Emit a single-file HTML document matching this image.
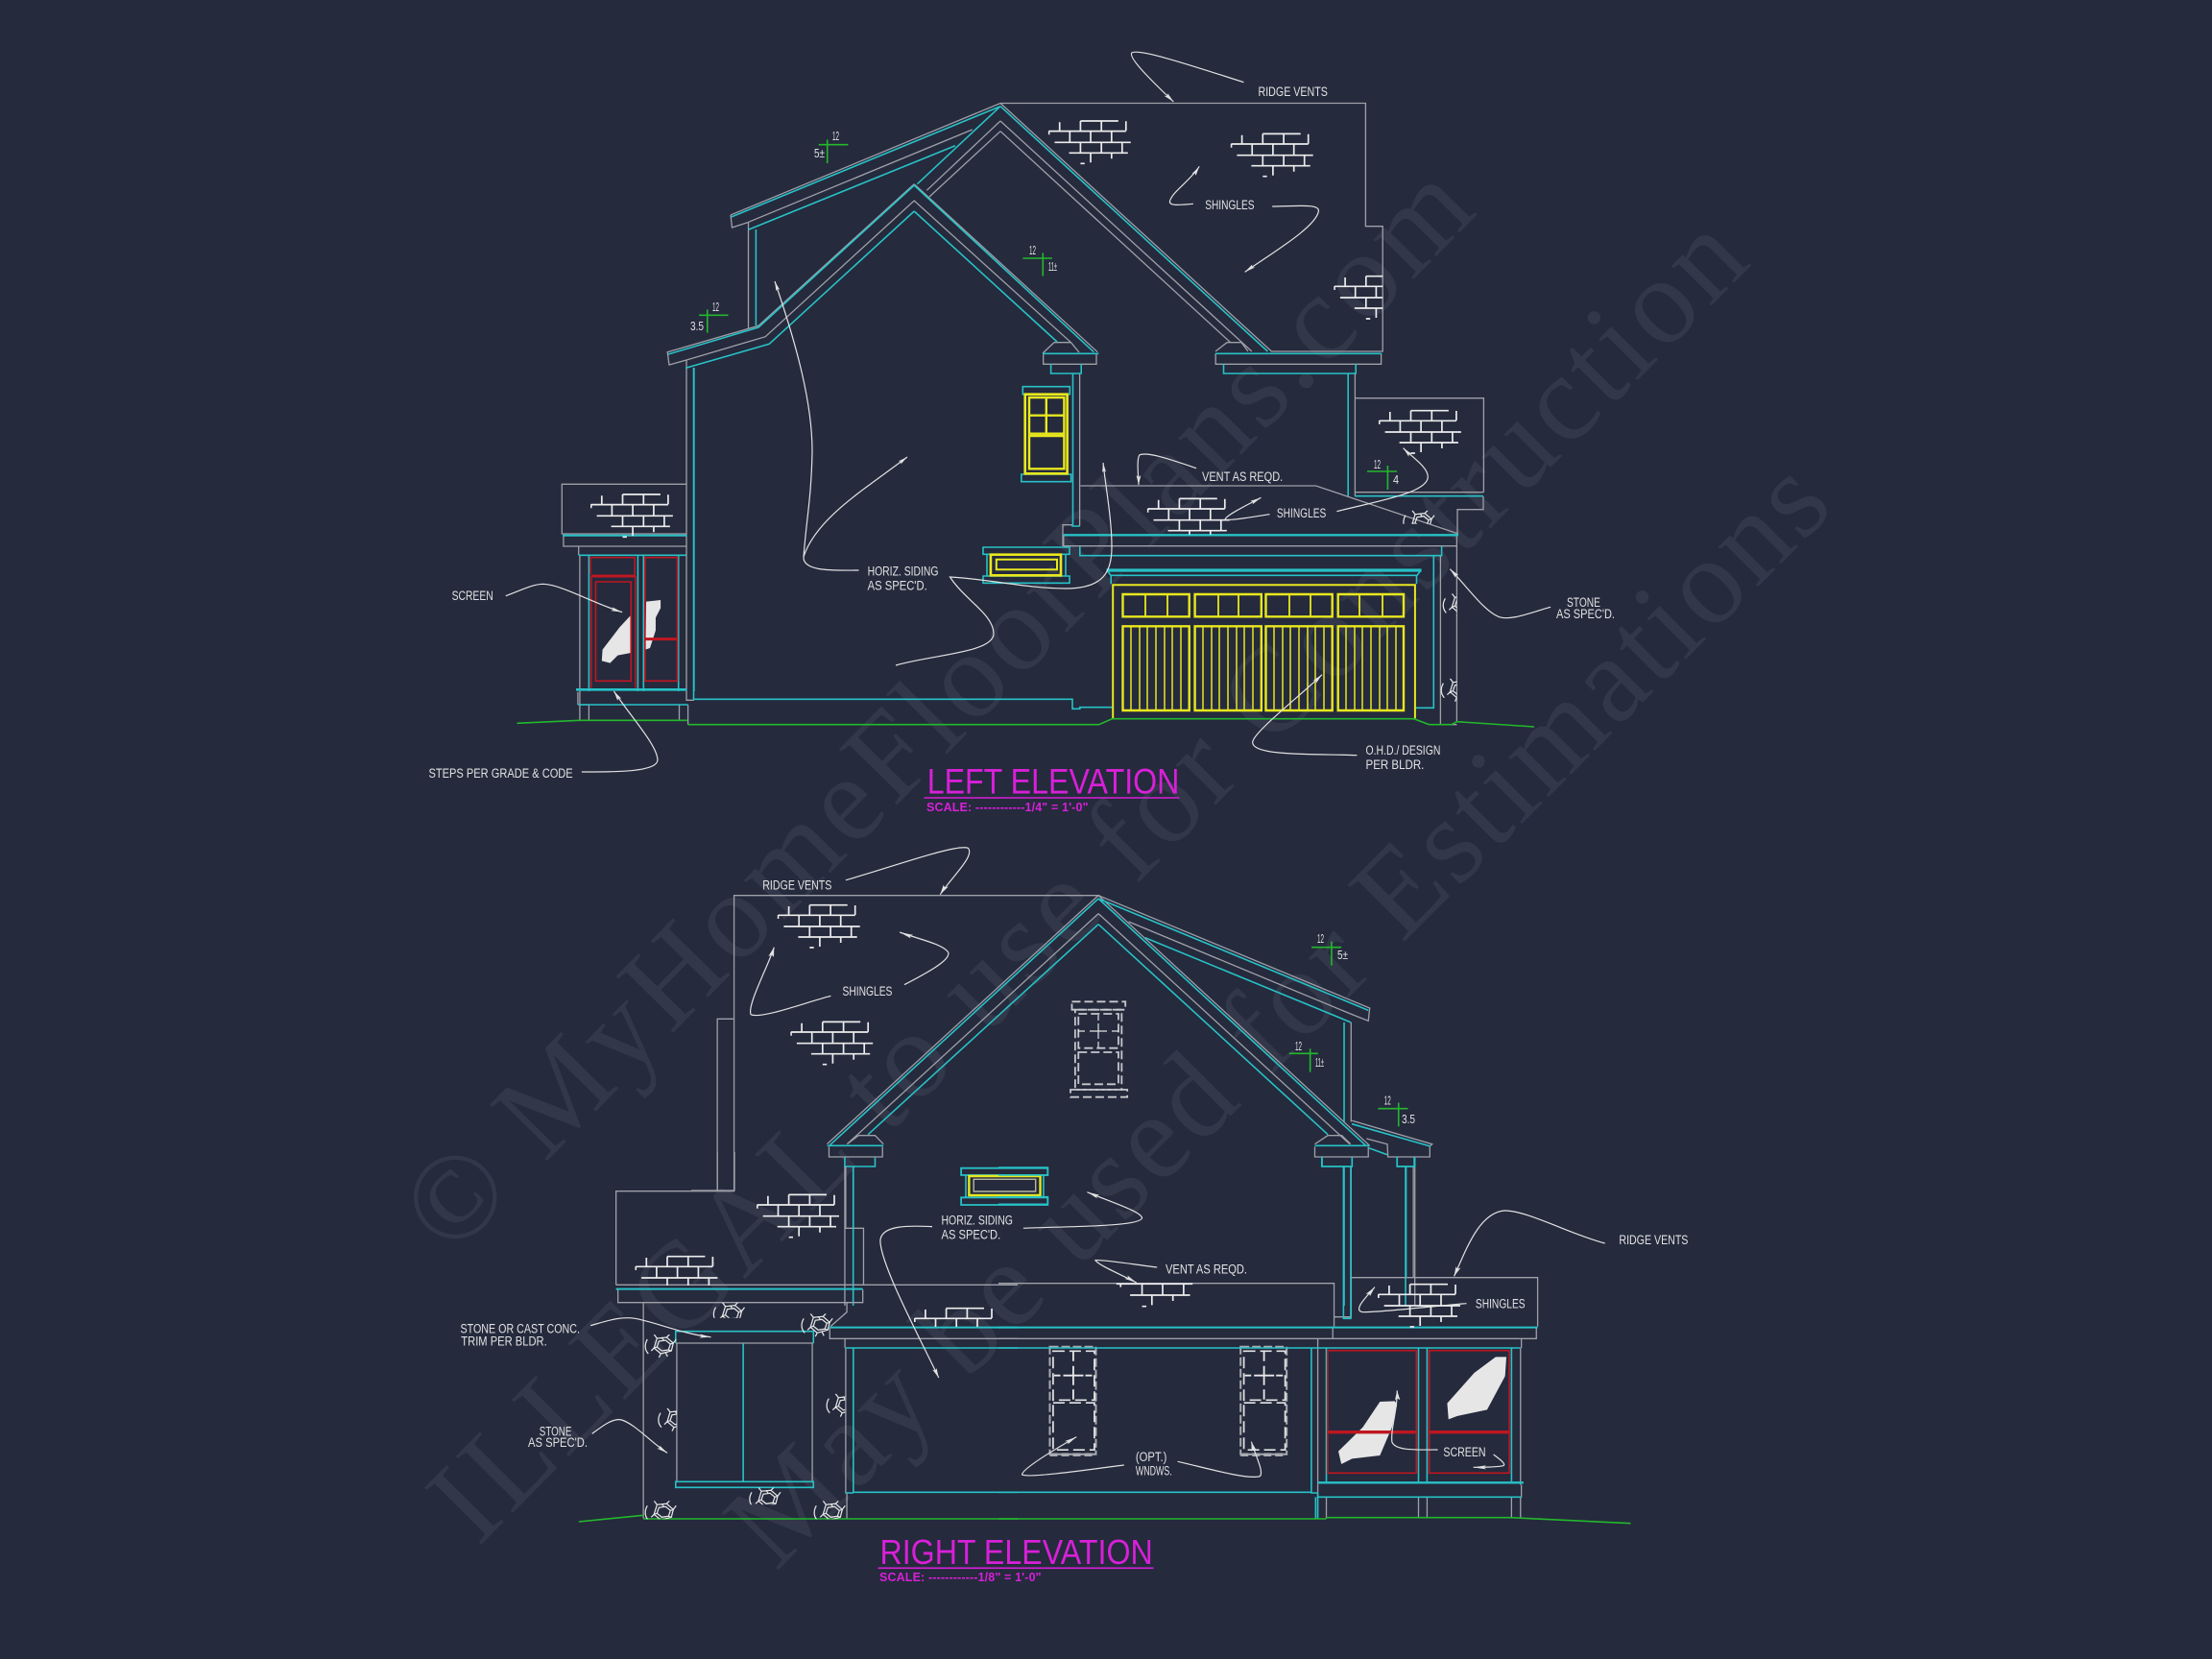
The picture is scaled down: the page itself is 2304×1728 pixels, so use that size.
<!DOCTYPE html>
<html><head><meta charset="utf-8"><title>Elevations</title>
<style>
html,body{margin:0;padding:0;background:#252a3d;width:2304px;height:1728px;overflow:hidden}
svg{display:block}
svg *{vector-effect:non-scaling-stroke}
.g{fill:none;stroke:#9fa1a8;stroke-width:1.3}
.c{fill:none;stroke:#27c2c6;stroke-width:1.6}
.y{fill:none;stroke:#e8e81e;stroke-width:2.4}
.r{fill:none;stroke:#bf1620;stroke-width:1.6}
.gr{fill:none;stroke:#23b82c;stroke-width:1.6}
.w{fill:none;stroke:#e2e2e2;stroke-width:1.2}
.d{fill:none;stroke:#c6c8cc;stroke-width:1.8;stroke-dasharray:9 4}
.t{font-family:"Liberation Sans",sans-serif;font-size:13.5px;fill:#e2e2e2}
.s{font-family:"Liberation Sans",sans-serif;font-size:13px;fill:#e2e2e2}
.m{font-family:"Liberation Sans",sans-serif;fill:#d820d8}
.wm{font-family:"Liberation Serif",serif;font-size:128px;fill:#323749}
</style></head><body>
<svg xmlns="http://www.w3.org/2000/svg" width="2304" height="1728" viewBox="0 0 2304 1728">
<defs>
<marker id="a" markerUnits="userSpaceOnUse" viewBox="0 0 10 4" refX="10" refY="2" markerWidth="32" markerHeight="12" orient="auto"><path d="M0 0L10 2L0 4L2 2Z" fill="#e2e2e2"/></marker>
<marker id="at" markerUnits="userSpaceOnUse" viewBox="0 0 10 4" refX="10" refY="2" markerWidth="12" markerHeight="4" orient="auto"><path d="M0 0L10 2L0 4L2 2Z" fill="#e2e2e2"/></marker>
<symbol id="b" overflow="hidden">
<path fill="none" stroke="#ececec" stroke-width="1.7" d="M33.6 2.7H73M.8 13.3H81M6.7 25H86M21.7 36H83M11.9 4V13.3M33.6 2.7V13.3M55.4 2.7V13.3M22.5 13.3V25M44.2 13.3V25M66 13.3V25M33.6 25V36M55.4 25V36M77 25V36M44.2 36V46M66 36V42M33.6 47H38M.8 13V17M81 3V13"/>
</symbol>
<symbol id="st" overflow="hidden">
<path fill="none" stroke="#e6e6e6" stroke-width="1.25" d="M3 5C0 10 0 16 4 20M13 4L23 3L30 9L28 17L17 20L10 14ZM15 7L22 6L27 10L25 16L18 17L13 13ZM17 20L15 24M22 19L24 23M10 14L7 17M30 9L33 5M13 4L10 0M23 3L26 0M18 3L20 6M27 10L30 9M13 13L10 14M25 16L28 17"/>
</symbol>
<g id="win">
<rect x="0" y="0" width="48" height="112" fill="none" stroke="#a9abb0" stroke-width="2" stroke-dasharray="9 3"/>
<rect x="3.4" y="4.6" width="43" height="51" fill="none" stroke="#e4e4e4" stroke-width="1.7" stroke-dasharray="12 5"/>
<rect x="3.4" y="58.5" width="43" height="49" fill="none" stroke="#e4e4e4" stroke-width="1.7" stroke-dasharray="12 5"/>
<path d="M0 112.5H48" fill="none" stroke="#a9abb0" stroke-width="3.5" stroke-dasharray="8 4"/>
<path d="M24.4 5V15M24.4 20V40M24.4 44.5V55M14 30H35M4.5 30H11M37 30H44" fill="none" stroke="#e8e8e8" stroke-width="1.8"/>
</g>
</defs>
<rect width="2304" height="1728" fill="#252a3d"/>

<!-- watermark -->
<text class="wm" transform="translate(470,1311) rotate(-45.5)" textLength="1527" lengthAdjust="spacing">© MyHomeFloorPlans.com</text>
<text class="wm" transform="translate(498,1612) rotate(-45.2)" textLength="1884" lengthAdjust="spacing">ILLEGAL to use for Construction</text>
<text class="wm" transform="translate(808,1638) rotate(-45.1)" textLength="1564" lengthAdjust="spacing">May be used for Estimations</text>

<!-- ============ LEFT ELEVATION ============ -->
<g class="g">
<path d="M761 224L1042 107.5H1422.4V235.7H1440.2V366H1324.4L1042 107.5"/>
<path d="M1012.7 135L778.7 231.7M761 224L762.5 237L778.7 231.7"/>
<path d="M1042 126L965.3 198.3M1042 136.7L968 205M1042 126L1303.8 366M1042 136.7L1281.7 356.7"/>
<path d="M952.2 191.7L790 339.3L695.2 366.7L697 380L715 375L797.2 350.7L952.2 209L1115.5 356.7M952.2 191.7L1143.2 366.7"/>
<path d="M779.5 231.7V341.7M715 375V729.3H722.9"/>
<path d="M1086 368L1098 356.7H1115.5L1124 367M1086.7 368V379.3H1142V368"/>
<path d="M1124.6 389V548M1107 569V546.7H1117"/>
<path d="M1266 366L1278 356.7H1293L1300 366M1266.2 368V379.3H1438.6V368"/>
<path d="M1411.4 389V516.7M1411.4 414.7H1545.4V512.7M1411.4 512.7H1545.4M1545 517V530.7H1518M1518 530V557"/>
<path d="M1125.5 506H1370.6L1519 556"/>
<path d="M1107.8 568.7H1517.4M1107.8 557V569M1517.4 557V752M1500.4 578.7V754.7M1488.6 754.7H1517.4"/>
<path d="M715.4 504.3H585.3V556H715.4M586.9 558.3V569H715.4M602.7 569V578.3M603.9 578V750.3M603.9 734H613.4V750.3M707.5 734V750.3M716.6 734V754.7M601.9 720.7V734"/>
</g>
<g class="c">
<path d="M761.7 226L1042 110.7M995 151.7L779.5 239.3M1042 110.7L955.4 191.7M1042 110.7L1320.4 366"/>
<path d="M787.4 239V339M952.2 193L790 341L696 369M952.2 220L801.2 358.3L714.2 383.3M952.2 193L1139.3 366.7M952.2 220L1101 356"/>
<path d="M1086 368.3H1144.4M1094.6 379V389H1126.2V379M1117.5 389V546.7M1117 546.7V548H1124.8"/>
<path d="M722.5 383V728.3H1117V738.3H1124.8V736.7H1158.4M1117 728V738.3"/>
<path d="M1266 368.3H1439M1274.5 379V389H1412.2V379M1404.2 389V516.7M1411 516.7H1545"/>
<path d="M1107.8 557.3H1519" stroke-width="2.4"/>
<path d="M1124.8 569V578.7H1501.6V569M1493.3 578.7V737.3H1473"/>
<path d="M1152.5 594H1480.6" stroke-width="3.2"/>
<path d="M1153 594L1157 599.3H1476L1480 594M1157.2 599V608.3M1475.5 599V608.3"/>
<rect x="1024" y="570" width="90" height="7.3"/><rect x="1024" y="600" width="90" height="7.3"/>
<path d="M1028 577.3V600M1110 577.3V600"/>
<rect x="1065.3" y="402.7" width="49" height="8"/><rect x="1063.8" y="494" width="51.8" height="7.7"/>
<path d="M586 557.7H715.4" stroke-width="2"/>
<path d="M602.7 578.3H715M613.4 578V720M664.4 578V720M670.3 578V720M706.7 578V720M722.9 720V383"/>
<path d="M600 718.3H715.4" stroke-width="2.6"/>
<path d="M601.9 734H716.6"/>
</g>
<g class="y">
<rect x="1067.7" y="410.7" width="43.9" height="82.6" stroke-width="2.6"/>
<rect x="1072" y="414" width="36.4" height="37.7"/><rect x="1072" y="454" width="36.4" height="34.3"/>
<path d="M1089.8 414V451.7M1072 432.7H1108.4"/>
<rect x="1031.9" y="577.7" width="73.1" height="21.6" stroke-width="2.6"/>
<rect x="1037.8" y="582.7" width="63.2" height="10.6" stroke-width="2"/>
<path d="M1159.2 748.3V609.3H1473.9V748.3" stroke-width="2"/>
<rect x="1169.5" y="619" width="69.2" height="23.3"/><rect x="1244.6" y="619" width="69.2" height="23.3"/><rect x="1318.5" y="619" width="69.2" height="23.3"/><rect x="1393.7" y="619" width="68.3" height="23.3"/>
<path stroke-width="1.8" d="M1193 619V642M1216 619V642M1269 619V642M1290 619V642M1343 619V642M1365 619V642M1416 619V642M1440 619V642"/>
<rect x="1169.5" y="652.3" width="69.2" height="87.7"/><rect x="1244.6" y="652.3" width="69.2" height="87.7"/><rect x="1318.5" y="652.3" width="69.2" height="87.7"/><rect x="1393.7" y="652.3" width="68.3" height="87.7"/>
<path stroke-width="1.5" d="M1178 652V740M1187 652V740M1195 652V740M1204 652V740M1213 652V740M1221 652V740M1230 652V740M1253 652V740M1262 652V740M1270 652V740M1279 652V740M1288 652V740M1296 652V740M1305 652V740M1327 652V740M1336 652V740M1344 652V740M1353 652V740M1362 652V740M1370 652V740M1379 652V740M1402 652V740M1411 652V740M1419 652V740M1428 652V740M1437 652V740M1445 652V740M1454 652V740"/>
</g>
<g transform="translate(420,480) scale(.39541,.33333)">
<path fill="#e6e6e6" d="M600 482L570 520L525 590L523 625L545 632L565 608L600 600Z"/>
<path fill="#e6e6e6" d="M640 440L678 435L678 460L665 490L665 530L650 585L638 590Z"/>
<g class="r">
<path d="M493 355V302H610V355"/>
<path d="M495 360H612" stroke-width="3"/>
<path d="M495 360V710M612 360V710"/>
<rect x="507" y="378" width="93" height="310"/>
<rect x="637" y="302" width="85" height="386"/>
<path d="M637 557H720" stroke-width="3"/>
</g>
</g>
<path class="gr" d="M538.6 753.3L603.9 750.3H715.8M716.6 754.7H1144.6L1158.4 748.7H1472.7L1488.6 754.7H1512L1517.4 751.7L1598 757"/>
<use href="#b" x="1091.8" y="123.3" width="90" height="50"/>
<use href="#b" x="1281.7" y="136.7" width="90" height="50"/>
<use href="#b" x="1389.2" y="285" width="51" height="50"/>
<use href="#b" x="1435.9" y="425" width="90" height="50"/>
<use href="#b" x="614.9" y="512.3" width="90" height="50"/>
<use href="#b" x="1194.8" y="516.7" width="90" height="40"/>
<use href="#st" x="1502.4" y="618.3" width="15" height="24"/>
<use href="#st" x="1500.4" y="706.7" width="17" height="24"/>
<use href="#st" x="1461" y="531.7" width="34" height="14"/>
<g class="w">
<path marker-end="url(#at)" d="M894.5 594C870 594 836 596 837 580C840 540 845 520 846 470C846 420 830 360 807 293"/>
<path marker-end="url(#at)" d="M837 580C850 540 900 510 945 476"/>
<path marker-end="url(#at)" d="M933 693C970 682 1035 680 1035 660C1035 640 1005 625 989.5 601C1030 603 1070 613 1110 613C1150 613 1158 595 1158 570C1158 540 1152 510 1149 482"/>
</g>
<g class="w" transform="translate(1080,40) scale(.39541,.33333)">
<path marker-end="url(#a)" d="M545 137C420 90 270 30 250 45C240 60 300 130 360 198"/>
<path marker-end="url(#a)" d="M412 517C380 520 350 525 350 510C355 480 400 450 428 400"/>
<path marker-end="url(#a)" d="M620 525C680 525 745 515 742 540C735 590 620 670 548 730"/>
<path marker-end="url(#a)" d="M420 1343C350 1315 290 1290 270 1302C262 1320 268 1370 268 1395"/>
<path marker-end="url(#a)" d="M790 1478C900 1445 1030 1420 1030 1370C1030 1340 990 1310 965 1280"/>
</g>
<g class="w" transform="translate(420,480) scale(.39541,.33333)">
<path marker-end="url(#a)" d="M270 422C310 405 340 385 370 385C420 388 500 445 577 473"/>
<path marker-end="url(#a)" d="M470 972C540 972 670 975 670 935C670 890 600 800 555 720"/>
</g>
<g class="w" transform="translate(1020,480) scale(.39541,.33333)">
<path marker-end="url(#a)" d="M765 167C720 175 650 190 648 182C650 170 710 135 742 115"/>
<path marker-end="url(#a)" d="M1505 457C1450 475 1400 500 1370 488C1330 470 1290 400 1240 338"/>
<path marker-end="url(#a)" d="M995 920C900 915 720 925 720 880C720 850 840 740 903 668"/>
</g>
<g class="gr" transform="translate(560,40) scale(.39541,.33333)">
<path d="M740 332H818M763 316V390M1278 687H1355M1331 670V743M425 865H502M447 847V920"/>
</g>
<path class="gr" d="M1424 491H1455M1445.4 485V510"/>
<g class="s">
<text x="867" y="146" textLength="7" lengthAdjust="spacingAndGlyphs">12</text><text x="848" y="164" textLength="11" lengthAdjust="spacingAndGlyphs">5±</text>
<text x="1072" y="265" textLength="7" lengthAdjust="spacingAndGlyphs">12</text><text x="1092" y="282" textLength="9" lengthAdjust="spacingAndGlyphs">11±</text>
<text x="742" y="324" textLength="7" lengthAdjust="spacingAndGlyphs">12</text><text x="719" y="344" textLength="14" lengthAdjust="spacingAndGlyphs">3.5</text>
<text x="1431" y="488" textLength="7" lengthAdjust="spacingAndGlyphs">12</text><text x="1451" y="504" textLength="6" lengthAdjust="spacingAndGlyphs">4</text>
</g>
<g class="t">
<text x="1310.5" y="100" textLength="72.4" lengthAdjust="spacingAndGlyphs">RIDGE VENTS</text>
<text x="1255.2" y="218" textLength="51.4" lengthAdjust="spacingAndGlyphs">SHINGLES</text>
<text x="1252" y="501" textLength="84.2" lengthAdjust="spacingAndGlyphs">VENT AS REQD.</text>
<text x="1329.9" y="539" textLength="51.4" lengthAdjust="spacingAndGlyphs">SHINGLES</text>
<text x="470.6" y="625" textLength="43.1" lengthAdjust="spacingAndGlyphs">SCREEN</text>
<text x="903.6" y="599.5" textLength="73.9" lengthAdjust="spacingAndGlyphs">HORIZ. SIDING</text>
<text x="903.6" y="614.3" textLength="62.1" lengthAdjust="spacingAndGlyphs">AS SPEC'D.</text>
<text x="446.5" y="810" textLength="150.2" lengthAdjust="spacingAndGlyphs">STEPS PER GRADE &amp; CODE</text>
<text x="1422.5" y="786" textLength="77.9" lengthAdjust="spacingAndGlyphs">O.H.D./ DESIGN</text>
<text x="1422.5" y="801" textLength="60.9" lengthAdjust="spacingAndGlyphs">PER BLDR.</text>
<text x="1632" y="632" textLength="35" lengthAdjust="spacingAndGlyphs">STONE</text>
<text x="1621" y="644" textLength="61" lengthAdjust="spacingAndGlyphs">AS SPEC'D.</text>
</g>
<text class="m" x="965.7" y="826.7" font-size="37" textLength="262.7" lengthAdjust="spacingAndGlyphs">LEFT ELEVATION</text>
<path d="M962.5 831H1228.4" stroke="#d820d8" stroke-width="1.6" fill="none"/>
<text class="m" x="965" y="845" font-size="12.5" font-weight="bold" textLength="168.5" lengthAdjust="spacing">SCALE: ------------1/4" = 1'-0"</text>

<!-- ============ RIGHT ELEVATION ============ -->
<use href="#win" x="1093.5" y="1402.7"/>
<use href="#win" x="1292.2" y="1402.7"/>
<g transform="translate(720,860) scale(.48469,.33333)">
<g class="g">
<path d="M92 1140V218H875L292 995M875 218L1458 1000M56 1140V604H92M0 1140H92"/>
<path d="M875 275L335 995M875 275L1415 995"/>
<path d="M875 218L1458 570L1455 610L1420 590L940 300"/>
<path d="M335 995L360 968H395L413 995M296 1003V1035H411V1003M1340 995L1368 968H1398L1417 995M1340 1003V1035H1455V1003"/>
<path d="M330 1065V1500M1418 615V925M1418 1065V1500M1555 1065V1500"/>
</g>
<g class="c">
<path d="M875 228L298 998M875 308L380 965M875 228L1450 1000M875 308L1368 965M875 228L1455 577M975 350L1418 615"/>
<path d="M292 1000H413M1340 1000H1458"/>
<path d="M330 1037V1065H395V1037M1355 1037V1065H1420V1037M1517 1037V1065H1555V1037"/>
<path d="M1403 615V925M348 1065V1500M1403 1065V1500M1535 1065V1500"/>
<rect x="580" y="1070" width="186" height="22" stroke-width="1.8"/>
<rect x="580" y="1162" width="186" height="23" stroke-width="1.8"/>
<path d="M590 1092V1162M757 1092V1162"/>
</g>
<rect class="y" x="597" y="1095" width="153" height="60" stroke-width="2"/>
<rect x="607" y="1105" width="133" height="38" fill="none" stroke="#b8b8a0" stroke-width="1.4"/>
<g class="d">
<rect x="818" y="550" width="115" height="25"/>
<rect x="825" y="575" width="100" height="250"/>
<rect x="832" y="588" width="86" height="107"/>
<rect x="832" y="708" width="86" height="100"/>
<rect x="815" y="825" width="122" height="23"/>
</g>
<g class="w">
<path marker-end="url(#a)" d="M332 170C420 135 570 55 595 70C610 95 560 160 535 215"/>
<path marker-end="url(#a)" d="M300 532C240 555 150 605 128 590C120 560 165 440 178 380"/>
<path marker-end="url(#a)" d="M458 497C500 465 560 420 552 395C540 370 490 355 448 333"/>
</g>
<path class="gr" d="M1333 380H1397M1376 362V437M1285 712H1347M1330 697V770M1476 884H1540M1520 866V940"/>
</g>
<path class="w" stroke-width="1.8" d="M1144 1057V1063M1144 1066V1082M1144 1085V1091M1135 1074H1153M1123 1074H1130M1158 1074H1165"/>
<path class="g" d="M1408.3 1167.3L1491.7 1191.7L1489.3 1194V1205H1445.7L1445 1191.7L1423.3 1186"/>
<path class="c" d="M1408 1170.7L1490 1194M1425.7 1195.7L1445 1202.7"/>

<g transform="translate(440,1200) scale(.39541,.33333)">
<g class="g">
<path d="M510 415V122H822M777 122V0M822 122V0M1115 45V238H1162V415M510 415H1568"/>
<path d="M515 430V470H1160V430M582 470V1145M1118 470V500L1075 545"/>
<path d="M670 598V1028M1027 598V1028M667 597H1030"/>
<path d="M1073 548V583H1568M1113 583V612M1115 612V1067M1118 1067V1146"/>
</g>
<g class="c">
<path d="M510 428H1160" stroke-width="2"/>
<path d="M667 597V560H1030V597"/>
<path d="M845 598V1030"/>
<rect x="667" y="1030" width="363" height="18"/>
<path d="M1073 548H1568" stroke-width="2"/>
<path d="M1115 612H1568M1135 612V1065M1115 1065H1135M1135 1063H1568"/>
<path d="M1135 45V238"/>
</g>
<path class="gr" stroke-width="2.2" d="M412 1155L582 1135M582 1146H1568"/>
<g class="w">
<path marker-end="url(#a)" d="M443 542C480 530 520 512 560 520C610 530 690 570 760 578"/>
<path marker-end="url(#a)" d="M447 880C470 860 500 830 525 837C560 850 600 905 645 940"/>
<path marker-end="url(#a)" d="M1343 233C1290 230 1205 225 1206 280C1210 360 1310 580 1360 705"/>
</g>
</g>

<g transform="translate(1040,1200) scale(.44643,.33333)">
<g class="g">
<path d="M0 410H783V545M1258 545V392H823V515H783"/>
<path d="M0 583H1255V550M780 550V583"/>
<path d="M745 585V1040M745 585V612M1220 585V612M1218 612V1040"/>
<path d="M745 1040V1078H1220V1040"/>
<path d="M765 1078V1145M980 1078V1145M1000 1078V1145M1197 1078V1145M1218 1078V1145"/>
<path d="M968 45V392"/>
</g>
<g class="c">
<path d="M0 548H1258" stroke-width="2"/>
<path d="M805 45V520H822V45M951 45V392"/>
<path d="M0 612H1218M0 1063H730M730 612V1065H745M745 1065V1145M765 612V1030M980 612V1030M1000 612V1030M1197 612V1030"/>
<path d="M745 1033H1225" stroke-width="2.4"/>
<path d="M745 1078H1220"/>
<path d="M740 1078V1145"/>
<path d="M755 15V45H825V15M930 15V45H970V15"/>
<path d="M0 48H115V72H0M0 140H115V163H0"/>
</g>
<path fill="#e6e6e6" d="M890 780L925 778L930 790L918 860L890 948L825 958L800 975L793 935L850 860Z"/>
<path fill="#e6e6e6" d="M1160 640L1185 640L1182 700L1140 805L1070 825L1050 835L1047 785L1110 690Z"/>
<g class="r">
<rect x="768" y="620" width="207" height="383"/>
<rect x="1005" y="620" width="187" height="383"/>
<path d="M768 875H975M1005 875H1192" stroke-width="3.4"/>
</g>
<path fill="none" stroke="#ececec" stroke-width="1.7" d="M275 412H453M307 447H447M285 412V422M335 412V447M383 412V447M432 412V447M358 447V478M407 447V465M335 482H345"/>
<path class="gr" stroke-width="2.2" d="M0 1146H765M765 1142H1197L1240 1145L1475 1160"/>
<g class="w">
<path marker-end="url(#a)" d="M58 238C140 232 335 235 335 205C330 185 270 160 207 125"/>
<path marker-end="url(#a)" d="M370 360C310 350 240 335 226 338C235 355 290 385 322 408"/>
<path marker-end="url(#a)" d="M1415 285C1340 260 1230 180 1180 183C1120 190 1090 310 1063 388"/>
<path marker-end="url(#a)" d="M1092 473C1020 480 900 500 850 500C825 495 860 450 878 422"/>
<path marker-end="url(#a)" d="M293 978C220 990 70 1020 55 1008C55 990 130 930 182 890"/>
<path marker-end="url(#a)" d="M418 967C480 985 580 1025 610 1013C620 1000 600 950 590 905"/>
<path marker-end="url(#a)" d="M1025 930C980 930 925 935 918 905C915 860 932 800 930 745"/>
<path marker-end="url(#a)" d="M1155 945C1170 960 1185 975 1178 980C1160 985 1130 985 1108 985"/>
</g>
</g>
<use href="#b" x="809.7" y="940" width="90" height="50"/>
<use href="#b" x="823.2" y="1061.7" width="90" height="50"/>
<use href="#b" x="788" y="1241.7" width="90" height="50"/>
<use href="#b" x="661.4" y="1306" width="90" height="33"/>
<use href="#b" x="952" y="1360" width="90" height="22"/>
<use href="#b" x="1435" y="1335" width="90" height="50"/>
<use href="#st" x="742.5" y="1356.7" width="34" height="16"/>
<use href="#st" x="834.2" y="1368.3" width="34" height="24"/>
<use href="#st" x="671.3" y="1390" width="34" height="24"/>
<use href="#st" x="685" y="1466.7" width="20" height="24"/>
<use href="#st" x="780" y="1549.3" width="34" height="18"/>
<use href="#st" x="671.3" y="1563.3" width="34" height="19"/>
<use href="#st" x="847.3" y="1563.3" width="34" height="19"/>
<use href="#st" x="860.3" y="1451.7" width="20" height="24"/>
<g class="s">
<text x="1372" y="982" textLength="7" lengthAdjust="spacingAndGlyphs">12</text><text x="1393" y="999" textLength="11" lengthAdjust="spacingAndGlyphs">5±</text>
<text x="1349" y="1094" textLength="7" lengthAdjust="spacingAndGlyphs">12</text><text x="1370" y="1111" textLength="9" lengthAdjust="spacingAndGlyphs">11±</text>
<text x="1441.7" y="1150.7" textLength="7" lengthAdjust="spacingAndGlyphs">12</text><text x="1460" y="1170" textLength="14" lengthAdjust="spacingAndGlyphs">3.5</text>
</g>
<g class="t">
<text x="794.2" y="926.7" textLength="72.2" lengthAdjust="spacingAndGlyphs">RIDGE VENTS</text>
<text x="877.5" y="1037" textLength="51.9" lengthAdjust="spacingAndGlyphs">SHINGLES</text>
<text x="980.5" y="1275.3" textLength="74.4" lengthAdjust="spacingAndGlyphs">HORIZ. SIDING</text>
<text x="980.5" y="1290.3" textLength="61.7" lengthAdjust="spacingAndGlyphs">AS SPEC'D.</text>
<text x="1214" y="1326.7" textLength="85" lengthAdjust="spacingAndGlyphs">VENT AS REQD.</text>
<text x="1686.4" y="1296" textLength="72" lengthAdjust="spacingAndGlyphs">RIDGE VENTS</text>
<text x="1536.9" y="1362.7" textLength="51.7" lengthAdjust="spacingAndGlyphs">SHINGLES</text>
<text x="479.5" y="1388.7" textLength="124.5" lengthAdjust="spacingAndGlyphs">STONE OR CAST CONC.</text>
<text x="480.3" y="1401.7" textLength="89.4" lengthAdjust="spacingAndGlyphs">TRIM PER BLDR.</text>
<text x="561.8" y="1495.3" textLength="33.6" lengthAdjust="spacingAndGlyphs">STONE</text>
<text x="550" y="1507" textLength="62" lengthAdjust="spacingAndGlyphs">AS SPEC'D.</text>
<text x="1182.9" y="1522" textLength="32.5" lengthAdjust="spacingAndGlyphs">(OPT.)</text>
<text x="1182.9" y="1536.7" textLength="37.9" lengthAdjust="spacingAndGlyphs">WNDWS.</text>
<text x="1503.4" y="1517" textLength="44.2" lengthAdjust="spacingAndGlyphs">SCREEN</text>
</g>
<text class="m" x="916.5" y="1629" font-size="36" textLength="284.2" lengthAdjust="spacingAndGlyphs">RIGHT ELEVATION</text>
<path d="M914.5 1633.3H1201.5" stroke="#d820d8" stroke-width="1.6" fill="none"/>
<text class="m" x="916" y="1647" font-size="12.5" font-weight="bold" textLength="168.6" lengthAdjust="spacing">SCALE: ------------1/8" = 1'-0"</text>
</svg>
</body></html>
